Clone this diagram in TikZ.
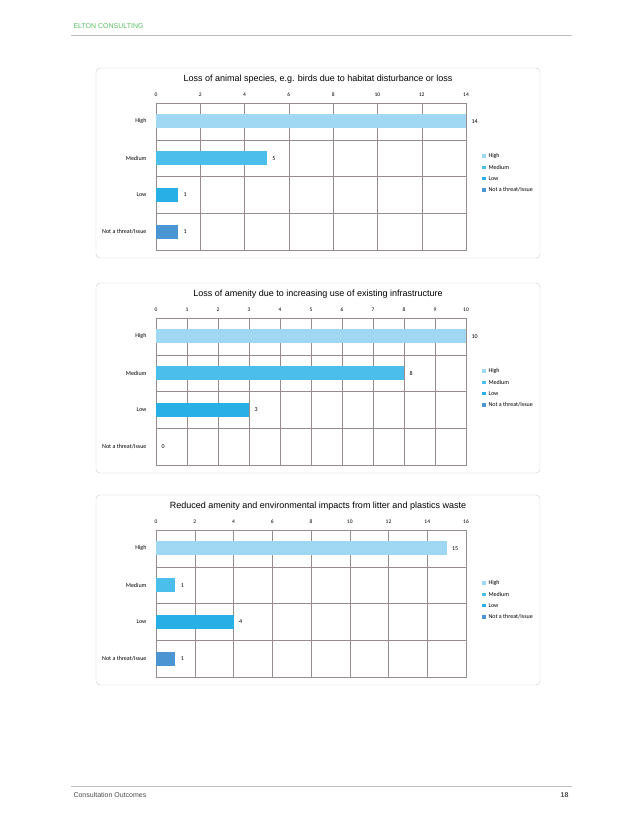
\documentclass[tikz,border=0pt]{standalone}
\usepackage{fontspec}
\setmainfont{Liberation Sans}
\newfontfamily\calfnt{Carlito}
\definecolor{cHigh}{RGB}{160,215,242}
\definecolor{cMed}{RGB}{75,190,235}
\definecolor{cLow}{RGB}{40,175,230}
\definecolor{cNot}{RGB}{75,150,210}
\definecolor{gridc}{RGB}{150,140,140}
\definecolor{elton}{RGB}{90,190,100}
\tikzset{
 frame/.style={draw=black!20,rounded corners=4pt},
 gridl/.style={draw=gridc,line width=0.4pt},
 ttl/.style={font=\fontsize{9}{11}\selectfont},
 tick/.style={font=\calfnt\fontsize{5.5}{6}\selectfont},
 cat/.style={font=\calfnt\fontsize{6}{7}\selectfont,anchor=east},
 val/.style={font=\calfnt\fontsize{6}{7}\selectfont,anchor=west},
 leg/.style={font=\calfnt\fontsize{6}{7}\selectfont,anchor=west},
}
% #1 top, #2 max, #3 step, #4 title, #5..#8 values, #9 tag
\newcommand{\mychart}[9]{%
 \pgfmathsetmacro{\pt}{#1+35}\pgfmathsetmacro{\pb}{#1+182}%
 \pgfmathsetmacro{\rh}{(\pb-\pt)/4}%
 \draw[frame] (96,#1) rectangle (540,#1+190);
 \node[ttl] (t#9) at (318,#1+11) {#4};
 \foreach \v in {0,#3,...,#2} {
   \pgfmathsetmacro{\xx}{156+310*\v/#2}
   \draw[gridl] (\xx,\pt) -- (\xx,\pb);
   \node[tick] (k#9\v) at (\xx,#1+27) {\v};
 }
 \draw[gridl] (156,\pt) rectangle (466,\pb);
 \foreach \i in {1,2,3} \draw[gridl] (156,\pt+\i*\rh) -- (466,\pt+\i*\rh);
 \foreach \i/\c/\n/\val in {0/cHigh/High/#5,1/cMed/Medium/#6,2/cLow/Low/#7,3/cNot/{Not a threat/Issue}/#8} {
   \pgfmathsetmacro{\yc}{\pt+(\i+0.5)*\rh}
   \pgfmathsetmacro{\xe}{156+310*\val/#2}
   \ifdim\val pt>0pt \fill[\c] (156,\yc-7) rectangle (\xe,\yc+7);\fi
   \node[cat] (c#9\i) at (150,\yc) {\n};
   \node[val] (v#9\i) at (\xe+2,\yc) {\val};
   \fill[\c] (482,#1+88+\i*11.3-1.8) rectangle (485.5,#1+88+\i*11.3+1.8);
   \node[leg] (l#9\i) at (485,#1+88+\i*11.3) {\n};
 }
}
\begin{document}
\begin{tikzpicture}[x=1pt,y=-1pt]
\useasboundingbox (0,0) rectangle (637,824);
\node[font=\fontsize{7}{8}\selectfont,text=elton,anchor=west] (hdr) at (70,26) {ELTON CONSULTING};
\draw[black!25,line width=1pt] (71,36) -- (572,36);
\mychart{68}{14}{2}{Loss of animal species, e.g. birds due to habitat disturbance or loss}{14}{5}{1}{1}{a}
\mychart{283}{10}{1}{Loss of amenity due to increasing use of existing infrastructure}{10}{8}{3}{0}{b}
\mychart{495}{16}{2}{Reduced amenity and environmental impacts from litter and plastics waste}{15}{1}{4}{1}{c}
\draw[black!25,line width=0.6pt] (71,786) -- (572,786);
\node[font=\fontsize{7}{8}\selectfont,text=black!70,anchor=west] (ftr) at (70,795) {Consultation Outcomes};
\node[font=\bfseries\fontsize{7}{8}\selectfont,text=black!70,anchor=east] (pg) at (572,795) {18};
\end{tikzpicture}
\end{document}
